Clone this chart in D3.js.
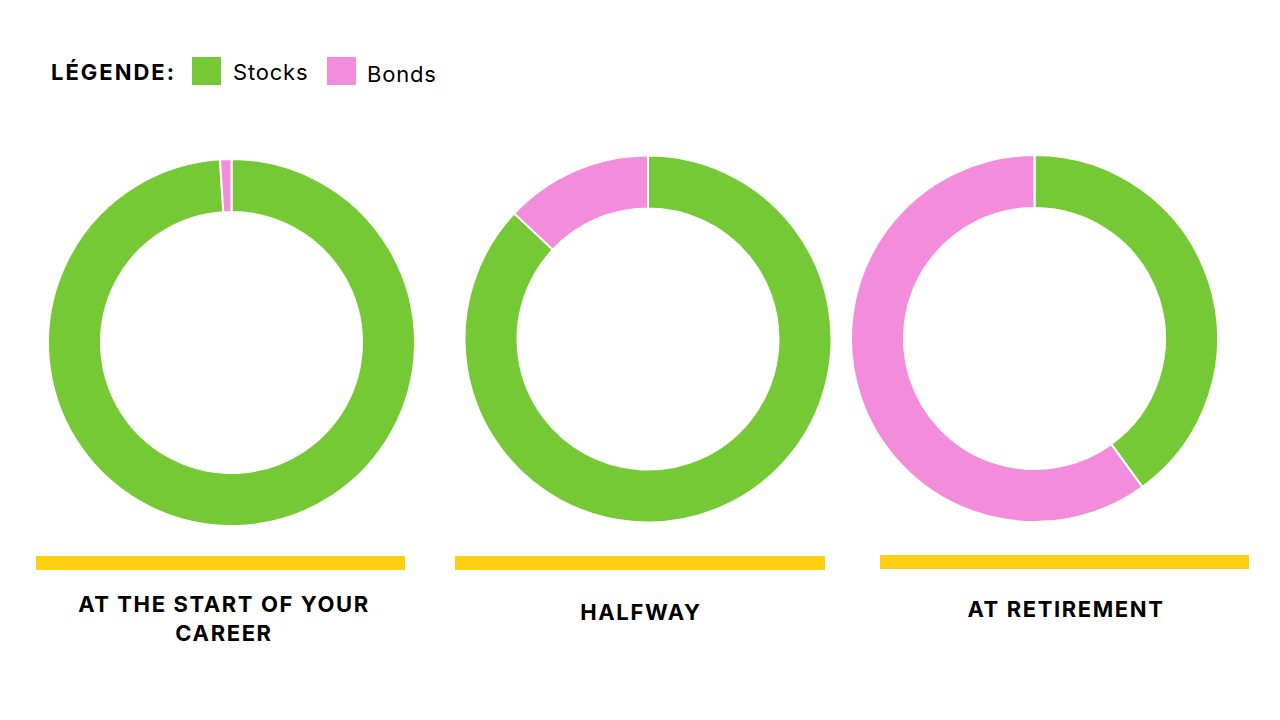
<!DOCTYPE html>
<html><head><meta charset="utf-8">
<script src="https://cdn.jsdelivr.net/npm/d3@7"></script>
<style>body{margin:0;background:#fff;}svg{display:block;}</style>
</head><body>
<svg id="c" width="1280" height="720"></svg>
<script>
const stages = ["AT THE START OF YOUR|CAREER", "HALFWAY", "AT RETIREMENT"];
const seriesNames = ["Stocks", "Bonds"];
const stocks = [99, 87, 40];
const bonds = [1, 13, 60];
const colors = ["#74C934", "#F48CDC"];
const legendTitle = "LÉGENDE:";

const svg = d3.select("#c");
const font = "Inter, 'Noto Sans', sans-serif";

// legend
svg.append("text").attr("x", 51).attr("y", 80).text(legendTitle)
  .attr("font-family", font).attr("font-weight", 700).attr("font-size", 22)
  .attr("letter-spacing", 2).attr("fill", "#000");
const legX = [192, 327], textX = [233, 367];
seriesNames.forEach((n, i) => {
  svg.append("rect").attr("x", legX[i]).attr("y", 57).attr("width", 29).attr("height", 28).attr("fill", colors[i]);
  svg.append("text").attr("x", textX[i]).attr("y", 80 + i * 2).text(n)
    .attr("font-family", font).attr("font-size", 22).attr("letter-spacing", 0.8).attr("fill", "#000");
});

const centers = [[231.5, 342.5], [648, 339], [1034.5, 338.5]];
const barX = [[36, 405, 556], [455, 825, 556], [880, 1249, 555]];
const titleY = [612, 620, 617];
const titleX = [224, 641, 1066];
const pie = d3.pie().sort(null).value(d => d.v);
const arc = d3.arc().innerRadius(130.5).outerRadius(183.5);

stages.forEach((s, i) => {
  const data = [{k: seriesNames[0], v: stocks[i]}, {k: seriesNames[1], v: bonds[i]}];
  const g = svg.append("g").attr("transform", `translate(${centers[i][0]},${centers[i][1]})`);
  g.selectAll("path").data(pie(data)).join("path")
    .attr("d", arc).attr("fill", (d, j) => colors[j])
    .attr("stroke", "#fff").attr("stroke-width", 2);
  svg.append("rect").attr("x", barX[i][0]).attr("y", barX[i][2])
    .attr("width", barX[i][1] - barX[i][0]).attr("height", 14).attr("fill", "#FFD012");
  const lines = s.split("|");
  const t = svg.append("text").attr("text-anchor", "middle")
    .attr("font-family", font).attr("font-weight", 700).attr("font-size", 22)
    .attr("letter-spacing", 1.6).attr("fill", "#000");
  lines.forEach((l, j) => {
    t.append("tspan").attr("x", titleX[i]).attr("y", titleY[i] + j * 29).text(l);
  });
});
</script>
</body></html>
